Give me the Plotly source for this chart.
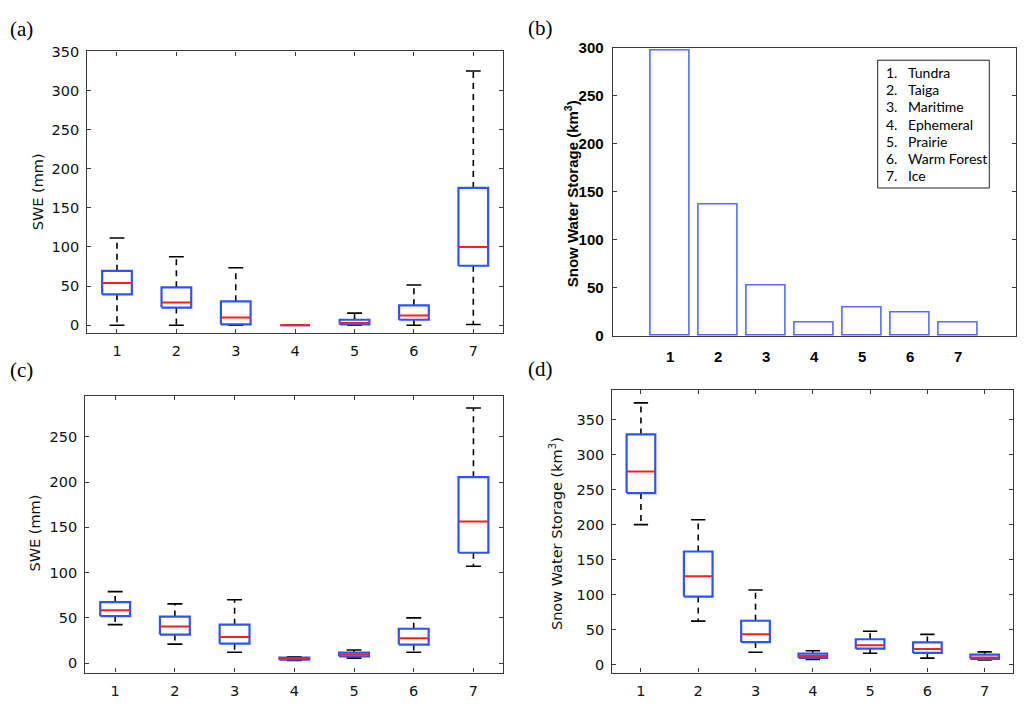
# Snow classes: SWE and snow water storage, four panels
import plotly.graph_objects as go

# Data:
zones = [1, 2, 3, 4, 5, 6, 7]
zone_names = ["Tundra", "Taiga", "Maritime", "Ephemeral", "Prairie", "Warm Forest", "Ice"]

# (a) SWE (mm) box stats
a_low = [0, 0, 0, 0, 0, 0, 1]
a_q1 = [39.5, 22.5, 1, 0, 1, 7, 76]
a_med = [54, 29, 10, 0, 3, 12.5, 100]
a_q3 = [69.5, 48.5, 30.5, 0, 7, 25.5, 175.5]
a_up = [111.5, 87.5, 73.5, 0, 15.5, 51.5, 325]

# (b) snow water storage (km3)
b_sws = [297, 137, 53, 13.5, 29.5, 24.5, 14]

# (c) SWE (mm) box stats
c_low = [42.5, 21, 12, 3, 5.5, 12, 107]
c_q1 = [52, 31.5, 21.5, 3.8, 7.5, 20.5, 122]
c_med = [58.5, 40.5, 29, 5, 9.5, 27.5, 156.5]
c_q3 = [67.5, 51.5, 42.5, 6, 11.5, 38, 205.5]
c_up = [79, 65.5, 70, 7, 14.5, 50, 282]

# (d) snow water storage (km3) box stats
d_low = [200, 62, 17.5, 7, 16, 9, 6.5]
d_q1 = [245, 97, 32, 9.5, 22.5, 16.5, 8]
d_med = [276, 126, 43, 12, 27.5, 22, 10]
d_q3 = [329, 161.5, 62.5, 15.5, 36, 31.5, 14]
d_up = [374, 207, 106.5, 19.5, 47.5, 43, 18]

# page body has an 8px margin all round: keep the figure inside the window
OFF = 8
W, H = 1010, 694
box_w = 0.5
cap_w = 0.25


def px_x(p):
    return (p - OFF) / W


def px_y(p):
    return 1 - (p - OFF) / H


def add_boxes(fig, xa, ya, low, q1, med, q3, up):
    wx, wy, cx, cy, bx, by, mx, my = [], [], [], [], [], [], [], []
    for xi, lo, a, m, b, hi in zip(zones, low, q1, med, q3, up):
        wx += [xi, xi, None, xi, xi, None]
        wy += [b, hi, None, a, lo, None]
        cx += [xi - cap_w / 2, xi + cap_w / 2, None, xi - cap_w / 2, xi + cap_w / 2, None]
        cy += [hi, hi, None, lo, lo, None]
        bx += [xi - box_w / 2, xi + box_w / 2, xi + box_w / 2, xi - box_w / 2, xi - box_w / 2, None]
        by += [a, a, b, b, a, None]
        mx += [xi - box_w / 2, xi + box_w / 2, None]
        my += [m, m, None]
    common = dict(xaxis=xa, yaxis=ya, mode="lines", showlegend=False, hoverinfo="skip")
    fig.add_trace(go.Scatter(x=wx, y=wy, line=dict(color="black", width=1.6, dash="6px,5px"), **common))
    fig.add_trace(go.Scatter(x=cx, y=cy, line=dict(color="black", width=1.6), **common))
    fig.add_trace(go.Scatter(x=bx, y=by, line=dict(color="#2f52ff", width=2.2), **common))
    fig.add_trace(go.Scatter(x=mx, y=my, line=dict(color="#ff1f1f", width=2), **common))


fig = go.Figure()
add_boxes(fig, "x", "y", a_low, a_q1, a_med, a_q3, a_up)
fig.add_trace(go.Bar(
    x=zones, y=b_sws, width=0.8, xaxis="x2", yaxis="y2",
    marker=dict(color="white", line=dict(color="#5a6cff", width=1.6)),
    showlegend=False
))
add_boxes(fig, "x3", "y3", c_low, c_q1, c_med, c_q3, c_up)
add_boxes(fig, "x4", "y4", d_low, d_q1, d_med, d_q3, d_up)

tick_font = dict(family="DejaVu Sans", size=14.5, color="#111111")
bold_font = dict(family="Liberation Sans", size=15, color="black", weight="bold")


def ax(domain, rng, font, ticks="inside", dtick=None, tickvals=None, anchor=None, standoff=5):
    d = dict(
        domain=domain, range=rng, showline=True, linecolor="#3a3a3a", linewidth=1.2,
        mirror="ticks" if ticks else True, ticks=ticks, ticklen=4, tickcolor="#3a3a3a",
        showgrid=False, zeroline=False, tickfont=font, anchor=anchor,
        ticklabelstandoff=standoff, fixedrange=True
    )
    if tickvals is not None:
        d["tickvals"] = tickvals
    if dtick is not None:
        d["dtick"] = dtick
        d["tick0"] = 0
    return d


fig.update_layout(
    width=W, height=H,
    margin=dict(l=0, r=0, t=0, b=0),
    paper_bgcolor="white", plot_bgcolor="white",
    bargap=0,
    xaxis=ax([px_x(87.3), px_x(503)], [0.5, 7.5], tick_font, tickvals=zones, anchor="y", standoff=4),
    yaxis=ax([px_y(332.3), px_y(43.3)], [-10.4, 350], tick_font, dtick=50, anchor="x", standoff=4),
    xaxis2=ax([px_x(612.7), px_x(1015.7)], [-0.2, 8.2], bold_font, ticks="", tickvals=zones, anchor="y2", standoff=7),
    yaxis2=ax([px_y(335), px_y(39.3)], [0, 300], bold_font, dtick=50, anchor="x2", standoff=5),
    xaxis3=ax([px_x(85.3), px_x(503.3)], [0.5, 7.5], tick_font, tickvals=zones, anchor="y3", standoff=5),
    yaxis3=ax([px_y(680), px_y(396.7)], [-10.4, 295], tick_font, dtick=50, anchor="x3", standoff=4),
    xaxis4=ax([px_x(612.3), px_x(1013.3)], [0.5, 7.5], tick_font, tickvals=zones, anchor="y4", standoff=5),
    yaxis4=ax([px_y(680), px_y(390)], [-11.6, 393], tick_font, dtick=50, anchor="x4", standoff=4),
)

# Panel letters
for lab, x0, y0 in [("(a)", 8, 20), ("(b)", 526, 19), ("(c)", 8, 370), ("(d)", 526, 369)]:
    fig.add_annotation(
        text=lab, x=px_x(x0), y=px_y(y0), xref="paper", yref="paper",
        xanchor="left", yanchor="middle", showarrow=False,
        font=dict(family="Liberation Serif", size=21, color="black")
    )

# Axis titles
label_font = dict(family="DejaVu Sans", size=14.5, color="#111111")
for lab, x0, y0, f in [
    ("SWE (mm)", 37.7, 187, label_font),
    ("Snow Water Storage (km<sup>3</sup>)", 571.7, 189, bold_font),
    ("SWE (mm)", 35, 537.5, label_font),
    ("Snow Water Storage (km<sup>3</sup>)", 556.7, 537.3, label_font),
]:
    fig.add_annotation(
        text=lab, x=px_x(x0), y=px_y(y0), xref="paper", yref="paper",
        xanchor="center", yanchor="middle", textangle=-90, showarrow=False, font=f
    )

# Legend box in (b)
fig.add_shape(
    type="rect", xref="paper", yref="paper",
    x0=px_x(877.7), x1=px_x(989.3), y0=px_y(183.3), y1=px_y(52.3),
    line=dict(color="#222222", width=1), fillcolor="white", layer="above"
)
leg_font = dict(family="Lato", size=14, color="black")
for i, (z, name) in enumerate(zip(zones, zone_names)):
    yy = px_y(65 + 17.6 * i)
    fig.add_annotation(text=str(z) + ".", x=px_x(884), y=yy, xref="paper", yref="paper",
                       xanchor="left", yanchor="middle", showarrow=False, font=leg_font)
    fig.add_annotation(text=name, x=px_x(905.7), y=yy, xref="paper", yref="paper",
                       xanchor="left", yanchor="middle", showarrow=False, font=leg_font)

fig.write_html("out.html")
